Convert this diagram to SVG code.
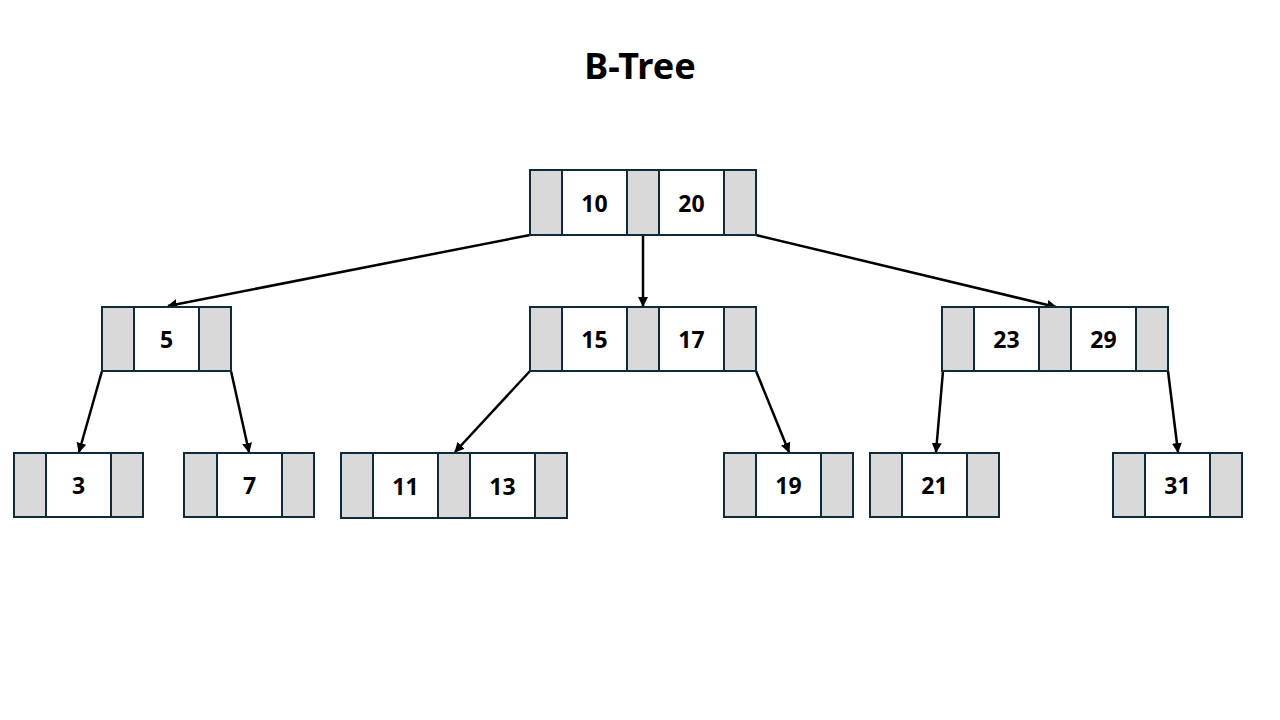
<svg xmlns="http://www.w3.org/2000/svg" width="1280" height="720" viewBox="0 0 1280 720">
  <style>
    .ptr { fill: #d9d9d9; stroke: #0f2a3a; stroke-width: 2; }
    .key { fill: #ffffff; stroke: #0f2a3a; stroke-width: 2; }
    .lbl { font-family: "Noto Sans", "Open Sans", sans-serif; font-weight: bold; font-size: 23px; fill: #000; text-anchor: middle; dominant-baseline: central; }
    .title { font-family: "Noto Sans", "Open Sans", sans-serif; font-weight: bold; font-size: 36px; fill: #000; text-anchor: middle; }
    .edge { stroke: #000; stroke-width: 2.5; fill: none; marker-end: url(#arrow); }
  </style>
  <defs>
    <marker id="arrow" viewBox="0 0 10 10" refX="9" refY="5" markerWidth="4" markerHeight="4" orient="auto" markerUnits="strokeWidth">
      <path d="M0,0 L10,5 L0,10 z" fill="#000"/>
    </marker>
  </defs>
  <rect width="1280" height="720" fill="#ffffff"/>
  <text class="title" x="640" y="79">B-Tree</text>

  <g id="connectors">
    <line class="edge" x1="530" y1="235" x2="168" y2="306"/>
    <line class="edge" x1="643" y1="235" x2="643" y2="306"/>
    <line class="edge" x1="756" y1="235" x2="1056" y2="307"/>
    <line class="edge" x1="102" y1="371" x2="79" y2="452"/>
    <line class="edge" x1="231" y1="371" x2="249" y2="452"/>
    <line class="edge" x1="530" y1="371" x2="455" y2="452"/>
    <line class="edge" x1="756" y1="371" x2="789" y2="452"/>
    <line class="edge" x1="943" y1="371" x2="936" y2="452"/>
    <line class="edge" x1="1168" y1="371" x2="1178" y2="452"/>
  </g>

  <!-- root -->
  <g id="node-10-20">
    <rect class="ptr" x="530" y="170" width="32" height="65"/>
    <rect class="key" x="562" y="170" width="65" height="65"/>
    <rect class="ptr" x="627" y="170" width="32" height="65"/>
    <rect class="key" x="659" y="170" width="65" height="65"/>
    <rect class="ptr" x="724" y="170" width="32" height="65"/>
    <text class="lbl" x="594.5" y="203">10</text>
    <text class="lbl" x="691.5" y="203">20</text>
  </g>

  <!-- level 1 -->
  <g id="node-5">
    <rect class="ptr" x="102" y="307" width="32" height="64"/>
    <rect class="key" x="134" y="307" width="65" height="64"/>
    <rect class="ptr" x="199" y="307" width="32" height="64"/>
    <text class="lbl" x="166.5" y="339">5</text>
  </g>
  <g id="node-15-17">
    <rect class="ptr" x="530" y="307" width="32" height="64"/>
    <rect class="key" x="562" y="307" width="65" height="64"/>
    <rect class="ptr" x="627" y="307" width="32" height="64"/>
    <rect class="key" x="659" y="307" width="65" height="64"/>
    <rect class="ptr" x="724" y="307" width="32" height="64"/>
    <text class="lbl" x="594.5" y="339">15</text>
    <text class="lbl" x="691.5" y="339">17</text>
  </g>
  <g id="node-23-29">
    <rect class="ptr" x="942" y="307" width="32" height="64"/>
    <rect class="key" x="974" y="307" width="65" height="64"/>
    <rect class="ptr" x="1039" y="307" width="32" height="64"/>
    <rect class="key" x="1071" y="307" width="65" height="64"/>
    <rect class="ptr" x="1136" y="307" width="32" height="64"/>
    <text class="lbl" x="1006.5" y="339">23</text>
    <text class="lbl" x="1103.5" y="339">29</text>
  </g>

  <!-- leaves -->
  <g id="node-3">
    <rect class="ptr" x="14" y="453" width="32" height="64"/>
    <rect class="key" x="46" y="453" width="65" height="64"/>
    <rect class="ptr" x="111" y="453" width="32" height="64"/>
    <text class="lbl" x="78.5" y="485">3</text>
  </g>
  <g id="node-7">
    <rect class="ptr" x="184" y="453" width="33" height="64"/>
    <rect class="key" x="217" y="453" width="65" height="64"/>
    <rect class="ptr" x="282" y="453" width="32" height="64"/>
    <text class="lbl" x="249.5" y="485">7</text>
  </g>
  <g id="node-11-13">
    <rect class="ptr" x="341" y="453" width="32" height="65"/>
    <rect class="key" x="373" y="453" width="65" height="65"/>
    <rect class="ptr" x="438" y="453" width="32" height="65"/>
    <rect class="key" x="470" y="453" width="65" height="65"/>
    <rect class="ptr" x="535" y="453" width="32" height="65"/>
    <text class="lbl" x="405.5" y="486">11</text>
    <text class="lbl" x="502.5" y="486">13</text>
  </g>
  <g id="node-19">
    <rect class="ptr" x="724" y="453" width="32" height="64"/>
    <rect class="key" x="756" y="453" width="65" height="64"/>
    <rect class="ptr" x="821" y="453" width="32" height="64"/>
    <text class="lbl" x="788.5" y="485">19</text>
  </g>
  <g id="node-21">
    <rect class="ptr" x="870" y="453" width="32" height="64"/>
    <rect class="key" x="902" y="453" width="65" height="64"/>
    <rect class="ptr" x="967" y="453" width="32" height="64"/>
    <text class="lbl" x="934.5" y="485">21</text>
  </g>
  <g id="node-31">
    <rect class="ptr" x="1113" y="453" width="32" height="64"/>
    <rect class="key" x="1145" y="453" width="65" height="64"/>
    <rect class="ptr" x="1210" y="453" width="32" height="64"/>
    <text class="lbl" x="1177.5" y="485">31</text>
  </g>
</svg>
